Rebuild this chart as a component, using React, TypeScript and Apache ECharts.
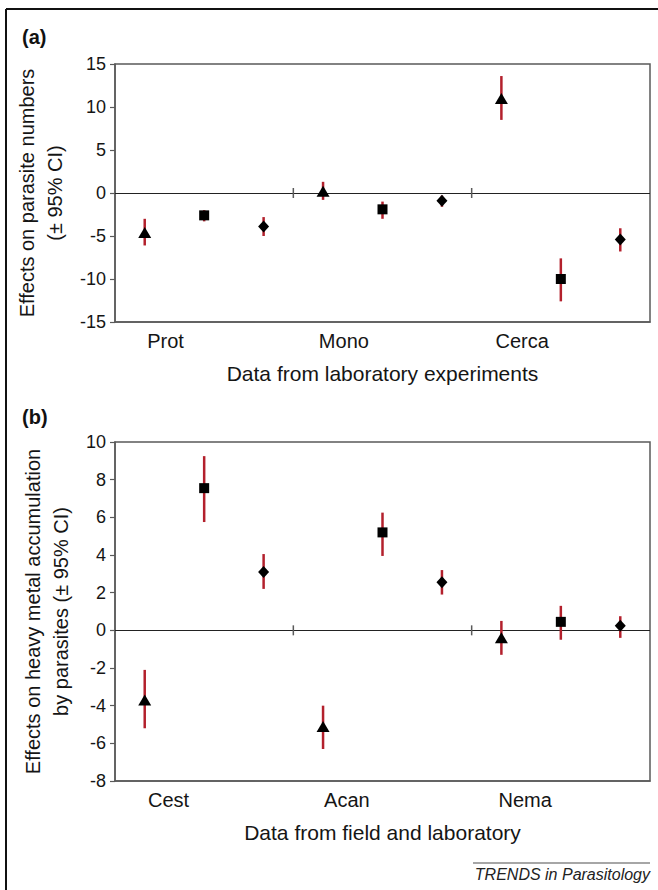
import React, { useEffect, useRef } from "react";
import * as echarts from "echarts";

// ---------- data ----------
const labCategories = ["Prot", "Mono", "Cerca"];
const labTriangle = [-4.6, 0.2, 11.0];
const labTriangleLo = [-6.1, -0.8, 8.5];
const labTriangleHi = [-3.0, 1.3, 13.6];
const labSquare = [-2.6, -1.9, -10.0];
const labSquareLo = [-3.3, -3.0, -12.6];
const labSquareHi = [-2.0, -1.0, -7.6];
const labDiamond = [-3.9, -0.9, -5.4];
const labDiamondLo = [-5.0, -1.6, -6.8];
const labDiamondHi = [-2.8, -0.3, -4.1];
const labYTicks = { min: -15, max: 15, interval: 5 };

const fieldCategories = ["Cest", "Acan", "Nema"];
const fieldTriangle = [-3.7, -5.1, -0.4];
const fieldTriangleLo = [-5.2, -6.3, -1.3];
const fieldTriangleHi = [-2.1, -4.0, 0.5];
const fieldSquare = [7.55, 5.2, 0.45];
const fieldSquareLo = [5.75, 3.95, -0.5];
const fieldSquareHi = [9.25, 6.25, 1.3];
const fieldDiamond = [3.1, 2.55, 0.25];
const fieldDiamondLo = [2.2, 1.9, -0.4];
const fieldDiamondHi = [4.05, 3.2, 0.75];
const fieldYTicks = { min: -8, max: 10, interval: 2 };

// ---------- style ----------
const FONT = "'Liberation Sans', Arial, Helvetica, sans-serif";
const BAR_COLOR = "#b3202c";
const AXIS_COLOR = "#5a5a5a";
const TEXT_COLOR = "#151515";

type Panel = {
  categories: string[];
  groups: { symbol: string; size: number[]; mean: number[]; lo: number[]; hi: number[] }[];
  yTicks: { min: number; max: number; interval: number };
  yName: string;
  xName: string;
  labelShift: number;
};

const panels: Panel[] = [
  {
    categories: labCategories,
    groups: [
      { symbol: "triangle", size: [13, 11], mean: labTriangle, lo: labTriangleLo, hi: labTriangleHi },
      { symbol: "rect", size: [10, 10], mean: labSquare, lo: labSquareLo, hi: labSquareHi },
      { symbol: "diamond", size: [11, 12], mean: labDiamond, lo: labDiamondLo, hi: labDiamondHi },
    ],
    yTicks: labYTicks,
    yName: "Effects on parasite numbers\n(± 95% CI)",
    xName: "Data from laboratory experiments",
    labelShift: -0.65,
  },
  {
    categories: fieldCategories,
    groups: [
      { symbol: "triangle", size: [13, 11], mean: fieldTriangle, lo: fieldTriangleLo, hi: fieldTriangleHi },
      { symbol: "rect", size: [10, 10], mean: fieldSquare, lo: fieldSquareLo, hi: fieldSquareHi },
      { symbol: "diamond", size: [11, 12], mean: fieldDiamond, lo: fieldDiamondLo, hi: fieldDiamondHi },
    ],
    yTicks: fieldYTicks,
    yName: "Effects on heavy metal accumulation\nby parasites (± 95% CI)",
    xName: "Data from field and laboratory",
    labelShift: -0.6,
  },
];

const grids = [
  { left: 115, top: 64, width: 535, height: 258 },
  { left: 115, top: 442, width: 535, height: 339 },
];

function buildOption() {
  const xAxis: any[] = [];
  const yAxis: any[] = [];
  const series: any[] = [];

  panels.forEach((p, pi) => {
    const n = p.categories.length;
    const ng = p.groups.length;
    const labelValues = p.categories.map((_, ci) => ci * ng + (ng + 1) / 2 + p.labelShift);
    xAxis.push({
      type: "value",
      gridIndex: pi,
      min: 0.5,
      max: n * ng + 0.5,
      axisLine: { show: true, onZero: false, lineStyle: { color: AXIS_COLOR, width: 1.5 } },
      axisTick: { show: false },
      splitLine: { show: false },
      axisLabel: {
        customValues: labelValues,
        formatter: (v: number) => p.categories[Math.floor(v / ng)] ?? "",
        fontFamily: FONT,
        fontSize: 20,
        color: TEXT_COLOR,
        margin: 9,
      },
      name: p.xName,
      nameLocation: "middle",
      nameGap: 41,
      nameTextStyle: { fontFamily: FONT, fontSize: 21, color: TEXT_COLOR },
    });
    yAxis.push({
      type: "value",
      gridIndex: pi,
      min: p.yTicks.min,
      max: p.yTicks.max,
      interval: p.yTicks.interval,
      axisLine: { show: true, lineStyle: { color: AXIS_COLOR, width: 1.5 } },
      axisTick: { show: true, length: 5, lineStyle: { color: AXIS_COLOR, width: 1.2 } },
      splitLine: { show: false },
      axisLabel: { fontFamily: FONT, fontSize: 18, color: TEXT_COLOR, margin: 9 },
      name: p.yName,
      nameLocation: "middle",
      nameRotate: 90,
      nameGap: 37,
      nameTextStyle: { fontFamily: FONT, fontSize: 20, lineHeight: 28, color: TEXT_COLOR, align: "center" },
    });

    // separators on the zero line
    const seps: number[][] = [];
    for (let ci = 1; ci < n; ci++) seps.push([ci * ng + 0.5, 0]);
    series.push({
      type: "custom",
      xAxisIndex: pi,
      yAxisIndex: pi,
      silent: true,
      data: seps,
      encode: { x: 0, y: 1 },
      renderItem: (params: any, api: any) => {
        const pt = api.coord([api.value(0), 0]);
        return {
          type: "line",
          shape: { x1: pt[0], y1: pt[1] - 5, x2: pt[0], y2: pt[1] + 5 },
          style: { stroke: AXIS_COLOR, lineWidth: 1.5 },
        };
      },
      z: 3,
    });

    // error bars
    const bars: number[][] = [];
    p.groups.forEach((g, gi) => {
      g.mean.forEach((_, ci) => bars.push([ci * ng + gi + 1, g.lo[ci], g.hi[ci]]));
    });
    series.push({
      type: "custom",
      xAxisIndex: pi,
      yAxisIndex: pi,
      silent: true,
      data: bars,
      encode: { x: 0, y: [1, 2] },
      renderItem: (params: any, api: any) => {
        const a = api.coord([api.value(0), api.value(1)]);
        const b = api.coord([api.value(0), api.value(2)]);
        return {
          type: "line",
          shape: { x1: a[0], y1: a[1], x2: b[0], y2: b[1] },
          style: { stroke: BAR_COLOR, lineWidth: 2.5 },
        };
      },
      z: 4,
    });

    // markers
    p.groups.forEach((g, gi) => {
      series.push({
        type: "scatter",
        xAxisIndex: pi,
        yAxisIndex: pi,
        symbol: g.symbol,
        symbolSize: g.size,
        itemStyle: { color: "#000", opacity: 1 },
        data: g.mean.map((m, ci) => [ci * ng + gi + 1, m]),
        z: 5,
        markLine:
          gi === 0
            ? {
                silent: true,
                symbol: "none",
                label: { show: false },
                lineStyle: { color: "#222", width: 1.2, type: "solid" },
                data: [{ yAxis: 0 }],
                z: 2,
              }
            : undefined,
      });
    });
  });

  return {
    animation: false,
    backgroundColor: "#fff",
    textStyle: { fontFamily: FONT },
    grid: grids.map((g) => ({ ...g, show: true, borderColor: AXIS_COLOR, borderWidth: 1.5, containLabel: false })),
    xAxis,
    yAxis,
    series,
    graphic: [
      { type: "line", shape: { x1: 6, y1: 9, x2: 658, y2: 9 }, style: { stroke: "#111", lineWidth: 2 } },
      { type: "line", shape: { x1: 6, y1: 9, x2: 6, y2: 890 }, style: { stroke: "#111", lineWidth: 2 } },
      {
        type: "text",
        x: 22,
        y: 37,
        style: { text: "(a)", font: `bold 20px ${FONT}`, fill: "#111", verticalAlign: "middle" },
      },
      {
        type: "text",
        x: 22,
        y: 417,
        style: { text: "(b)", font: `bold 20px ${FONT}`, fill: "#111", verticalAlign: "middle" },
      },
      { type: "line", shape: { x1: 473, y1: 863, x2: 650, y2: 863 }, style: { stroke: "#888", lineWidth: 1.5 } },
      {
        type: "text",
        x: 650,
        y: 874,
        style: {
          text: "TRENDS in Parasitology",
          font: `italic 16px ${FONT}`,
          fill: "#222",
          align: "right",
          verticalAlign: "middle",
        },
      },
    ],
  };
}

export default function App() {
  const ref = useRef<HTMLDivElement>(null);
  useEffect(() => {
    if (!ref.current) return;
    const chart = echarts.init(ref.current, null, { renderer: "svg" });
    chart.setOption(buildOption() as any);
    return () => chart.dispose();
  }, []);
  return (
    <div
      ref={ref}
      style={{ position: "absolute", left: 0, top: 0, width: 658, height: 890, background: "#fff" }}
    />
  );
}
